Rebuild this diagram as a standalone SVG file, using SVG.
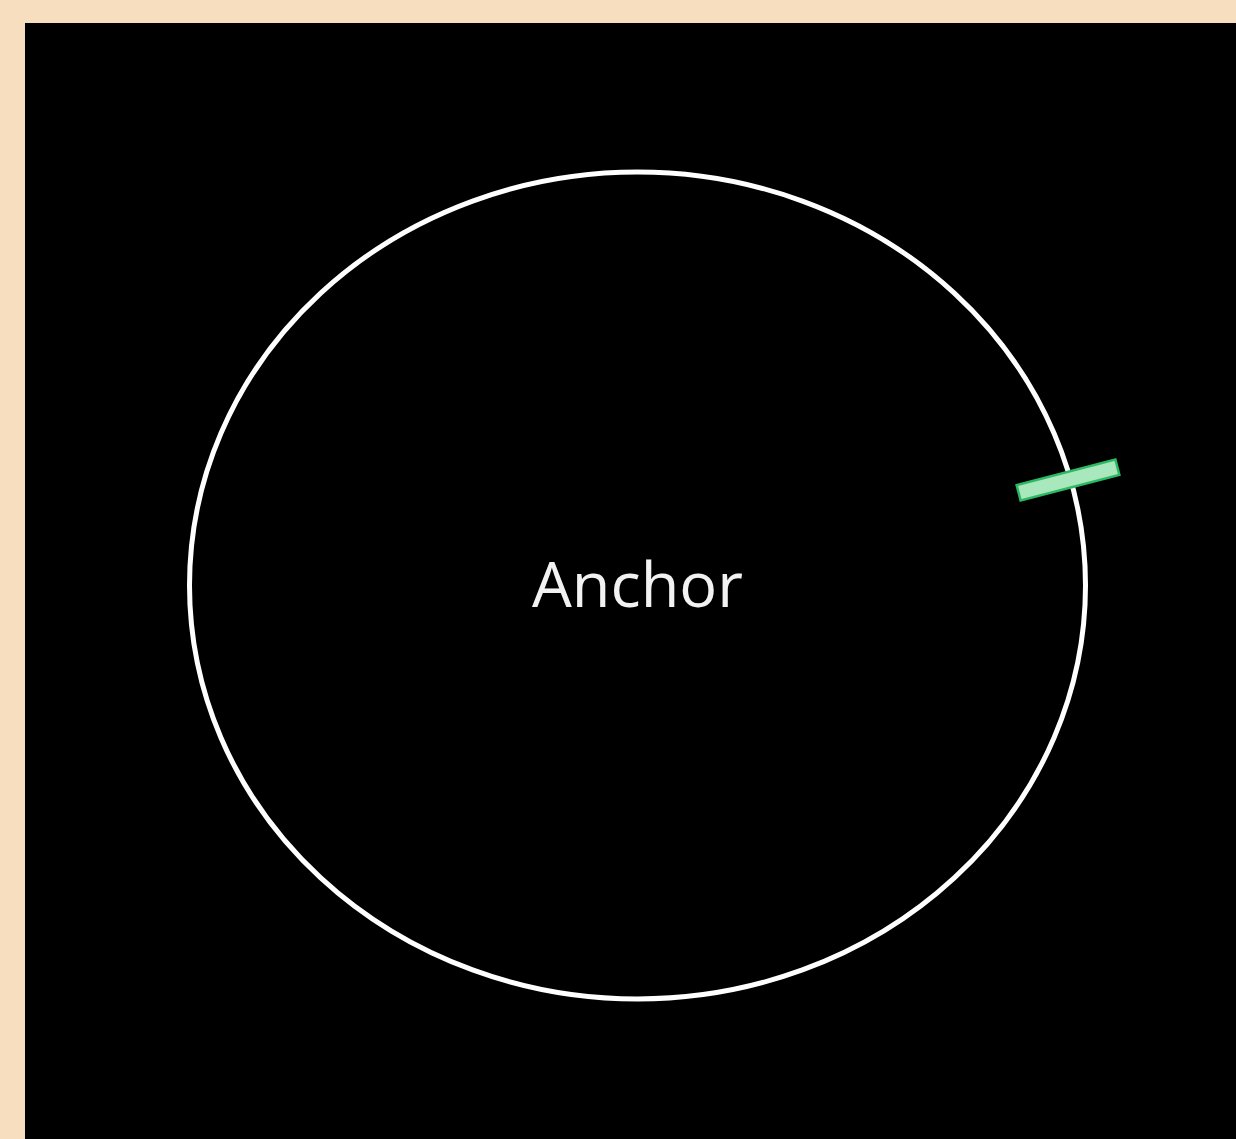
<svg xmlns="http://www.w3.org/2000/svg" width="1236" height="1139" viewBox="0 0 1236 1139">
<style>
.bg{fill:#F6DEBE}
.panel{fill:#000000}
.ring{fill:none;stroke:#FFFFFF;stroke-width:5}
.label{font-family:"Open Sans","Noto Sans","Liberation Sans",sans-serif;font-size:63px;fill:#F2F2F2;text-anchor:middle}
.tick{fill:#A9E8BC;stroke:#2DB862;stroke-width:2.5}
</style>
<rect class="bg" x="0" y="0" width="1236" height="1139"/>
<rect class="panel" x="25" y="23" width="1211" height="1116"/>
<g id="anchor">
<ellipse class="ring" cx="637.5" cy="585.5" rx="448" ry="413.5"/>
<text class="label" x="637.5" y="607">Anchor</text>
</g>
<g id="connectors">
<rect class="tick" x="-51" y="-8" width="102" height="16" transform="translate(1068 480) rotate(-14.5)"/>
</g>
</svg>
